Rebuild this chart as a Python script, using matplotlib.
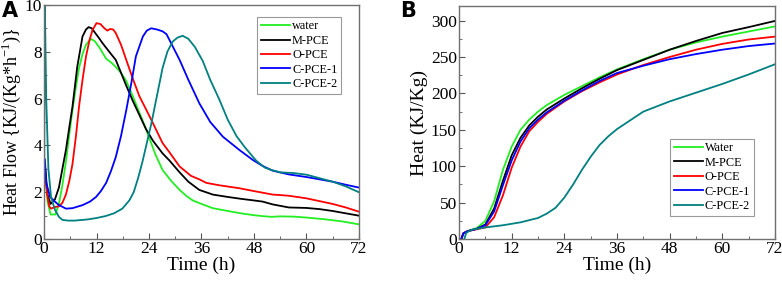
import matplotlib
matplotlib.use("Agg")
import matplotlib.pyplot as plt
from matplotlib.ticker import MultipleLocator

plt.rcParams['font.family'] = ['Liberation Serif', 'DejaVu Serif']
plt.rcParams['mathtext.fontset'] = 'custom'
plt.rcParams['mathtext.rm'] = 'Liberation Serif'

labels_a = ['water', 'M-PCE', 'O-PCE', 'C-PCE-1', 'C-PCE-2']
labels_b = ['Water', 'M-PCE', 'O-PCE', 'C-PCE-1', 'C-PCE-2']
colors = ['#22ee22', '#000000', '#ff0000', '#0000ff', '#008080']

# panel A: heat flow
t_water = [0.3, 0.8, 1.5, 2.6, 3.4, 4.2, 5.0, 5.8, 6.5, 7.3, 8.0, 8.8, 9.6, 10.7, 11.6, 12.6,
           13.4, 14.2, 15.3, 16.4, 17.6, 18.8, 20.3, 21.8, 23.0, 24.1, 25.5, 27.1, 29.0, 31.0,
           32.5, 34.0, 36.0, 38.6, 42, 45, 48, 50, 52, 54, 57, 60, 64, 68, 72]
hf_water = [2.8, 1.6, 1.05, 1.05, 1.5, 2.3, 3.3, 4.5, 5.5, 6.5, 7.3, 7.9, 8.3, 8.55, 8.45, 8.2,
            7.95, 7.7, 7.55, 7.35, 7.1, 6.75, 6.1, 5.4, 4.85, 4.3, 3.6, 2.95, 2.5, 2.1,
            1.85, 1.65, 1.5, 1.32, 1.2, 1.1, 1.02, 0.98, 0.95, 0.97, 0.96, 0.92, 0.85, 0.76, 0.63]

t_mpce = [0.3, 0.8, 1.5, 2.5, 3.4, 4.2, 5.0, 5.8, 6.5, 7.6, 8.8, 9.6, 10.2, 10.9, 11.5, 12.5,
          13.4, 14.9, 16.4, 17.6, 18.8, 20.3, 21.8, 23.3, 24.9, 27.1, 28.7, 31, 33, 35.5, 38.6,
          42, 45, 48, 50, 52.3, 54, 56, 60, 63, 66, 69, 72]
hf_mpce = [3.0, 1.9, 1.5, 1.7, 2.2, 3.0, 3.8, 4.8, 5.65, 7.36, 8.65, 8.95, 9.05, 9.0, 8.85, 8.6,
           8.36, 8.0, 7.65, 7.1, 6.55, 5.9, 5.3, 4.7, 4.2, 3.66, 3.35, 2.85, 2.45, 2.1, 1.9,
           1.8, 1.72, 1.65, 1.6, 1.48, 1.42, 1.35, 1.33, 1.28, 1.2, 1.1, 1.0]

t_opce = [0.3, 0.8, 1.2, 1.6, 2.5, 3.4, 4.2, 5.0, 5.8, 6.5, 7.3, 8.0, 8.8, 9.6, 10.4, 11.1, 12.0,
          12.9, 13.8, 14.5, 15.1, 15.8, 16.4, 17.6, 18.8, 20.3, 21.8, 23.3, 24.9, 27.1, 28.7, 31,
          33.6, 35.5, 37.1, 40, 44.7, 48, 50, 52.3, 54, 56, 60, 63, 66, 69, 72]
hf_opce = [2.6, 1.8, 1.4, 1.3, 1.37, 1.4, 1.55, 1.9, 2.5, 3.2, 4.4, 5.65, 6.8, 7.8, 8.5, 8.93, 9.22,
           9.18, 9.0, 8.9, 8.97, 8.95, 8.8, 8.3, 7.65, 6.85, 6.1, 5.55, 4.95, 4.1, 3.7, 3.1,
           2.7, 2.55, 2.4, 2.3, 2.17, 2.05, 1.98, 1.9, 1.88, 1.85, 1.74, 1.62, 1.5, 1.35, 1.17]

t_cpce1 = [0.2, 0.5, 1.4, 2.5, 3.4, 4.2, 5.0, 6.5, 8.8, 10.5, 11.9, 13, 14.2, 15.3, 16.4, 17.6,
           18.8, 20.0, 21.0, 22.6, 23.5, 24.5, 25.8, 27.1, 28, 29.5, 31, 33, 35.5, 38, 40.9, 44.7,
           47.8, 50, 52.3, 56, 60, 63, 66, 69, 72]
hf_cpce1 = [3.4, 2.4, 1.8, 1.6, 1.45, 1.38, 1.3, 1.32, 1.45, 1.6, 1.8, 2.05, 2.4, 2.9, 3.5, 4.4,
            5.5, 6.7, 7.8, 8.65, 8.9, 9.0, 8.95, 8.87, 8.75, 8.2, 7.65, 6.8, 5.8, 5.0, 4.37, 3.8,
            3.37, 3.12, 2.92, 2.76, 2.65, 2.55, 2.45, 2.32, 2.2]

t_cpce2 = [0, 0.15, 0.5, 1.0, 1.6, 2.5, 3.4, 4.2, 5.5, 7, 10, 12, 14, 16, 17.9, 19.5, 20.5, 21.5,
           22.5, 23.5, 24.5, 25.8, 27.1, 28.2, 29.4, 30.5, 31.7, 33, 34.5, 36.3, 38, 40.1, 42, 44,
           46, 48.5, 50.5, 52, 54, 57, 60, 63, 66, 69, 72]
hf_cpce2 = [0, 10.5, 6, 3, 1.8, 1.25, 0.95, 0.82, 0.79, 0.79, 0.84, 0.9, 0.98, 1.1, 1.3, 1.65, 2.0,
            2.6, 3.3, 4.1, 4.9, 6.1, 7.3, 8.0, 8.43, 8.6, 8.68, 8.55, 8.2, 7.6, 6.8, 5.95, 5.1, 4.4,
            3.9, 3.35, 3.05, 2.95, 2.85, 2.82, 2.75, 2.6, 2.45, 2.25, 2.0]

# panel B: cumulative heat
tb = [0.5, 1, 2, 4, 6, 8, 10, 12, 14, 16, 18, 20, 24, 28, 32, 36, 42, 48, 54, 60, 66, 72]
heat_water = [0, 8, 11, 15, 25, 52, 95, 127, 150, 164, 175, 184, 198, 210, 222, 233, 247, 260,
              270, 278, 285, 292]
heat_mpce = [0, 8, 11, 14, 20, 42, 80, 115, 139, 156, 168, 178, 193, 207, 220, 232, 246, 260,
             272, 283, 291, 299.5]
heat_opce = [0, 8, 11, 13.5, 16, 30, 60, 98, 127, 148, 161, 172, 189, 203, 215, 226, 239, 250,
             260, 268, 274, 278]
heat_cpce1 = [0, 8, 11, 14, 19, 38, 74, 108, 134, 152, 164, 174, 190, 204, 217, 228, 238, 247,
              254, 260, 265, 268.5]
tb2 = [1.2, 1.6, 2, 3, 4, 6, 10, 14, 18, 20, 22, 24, 26, 28, 30, 32, 34, 36, 42, 48, 54, 60, 66, 72]
heat_cpce2 = [0, 8, 10, 13, 14, 16, 19, 23, 29, 35, 43, 57, 75, 95, 113, 129, 141, 151, 175, 189,
              201, 213, 226, 240]

fig = plt.figure(figsize=(7.82, 2.86), dpi=100)
ax1 = fig.add_axes([0.0563, 0.164, 0.4027, 0.819])
ax2 = fig.add_axes([0.587, 0.164, 0.404, 0.815])

series_a = [(t_water, hf_water), (t_mpce, hf_mpce), (t_opce, hf_opce),
            (t_cpce1, hf_cpce1), (t_cpce2, hf_cpce2)]
for (t, v), lab, c in zip(series_a, labels_a, colors):
    ax1.plot(t, v, color=c, lw=1.3, label=lab)

series_b = [(tb, heat_water), (tb, heat_mpce), (tb, heat_opce),
            (tb, heat_cpce1), (tb2, heat_cpce2)]
for (t, v), lab, c in zip(series_b, labels_b, colors):
    ax2.plot(t, v, color=c, lw=1.3, label=lab)

ax1.set_xlim(0, 72)
ax1.set_ylim(0, 10)
ax1.yaxis.set_major_locator(MultipleLocator(2))
ax1.yaxis.set_minor_locator(MultipleLocator(1))
ax1.set_ylabel(r'Heat Flow {KJ/(Kg*h$^{\mathregular{-1}}$)}', fontsize=13, labelpad=1)

ax2.set_xlim(0, 72)
ax2.set_ylim(0, 320)
ax2.yaxis.set_major_locator(MultipleLocator(50))
ax2.yaxis.set_minor_locator(MultipleLocator(25))
ax2.set_ylabel('Heat (KJ/Kg)', fontsize=14, labelpad=2)

for ax in (ax1, ax2):
    ax.xaxis.set_major_locator(MultipleLocator(12))
    ax.xaxis.set_minor_locator(MultipleLocator(6))
    ax.set_xlabel('Time (h)', fontsize=14, labelpad=0)
    ax.tick_params(which='both', direction='in', labelsize=12.5, pad=1.5, color='#555555')
    ax.tick_params(which='major', length=4)
    ax.tick_params(which='minor', length=2)
    for s in ax.spines.values():
        s.set_color('#707070')
        s.set_linewidth(1.0)

leg_kw = dict(fontsize=8.8, frameon=True, fancybox=False, edgecolor='#808080',
              handlelength=2.4, handletextpad=0.15, borderpad=0.3, labelspacing=0.2,
              borderaxespad=0.3)
leg1 = ax1.legend(loc='upper right', bbox_to_anchor=(0.955, 0.965), **leg_kw)
leg2 = ax2.legend(loc='lower right', bbox_to_anchor=(0.945, 0.085), **leg_kw)
for leg in (leg1, leg2):
    leg.get_frame().set_linewidth(0.8)

fig.text(0.002, 0.995, 'A', fontsize=15, fontweight='bold', family='DejaVu Sans', va='top')
fig.text(0.512, 0.995, 'B', fontsize=15, fontweight='bold', family='DejaVu Sans', va='top')

fig.savefig('out.png', dpi=100)
